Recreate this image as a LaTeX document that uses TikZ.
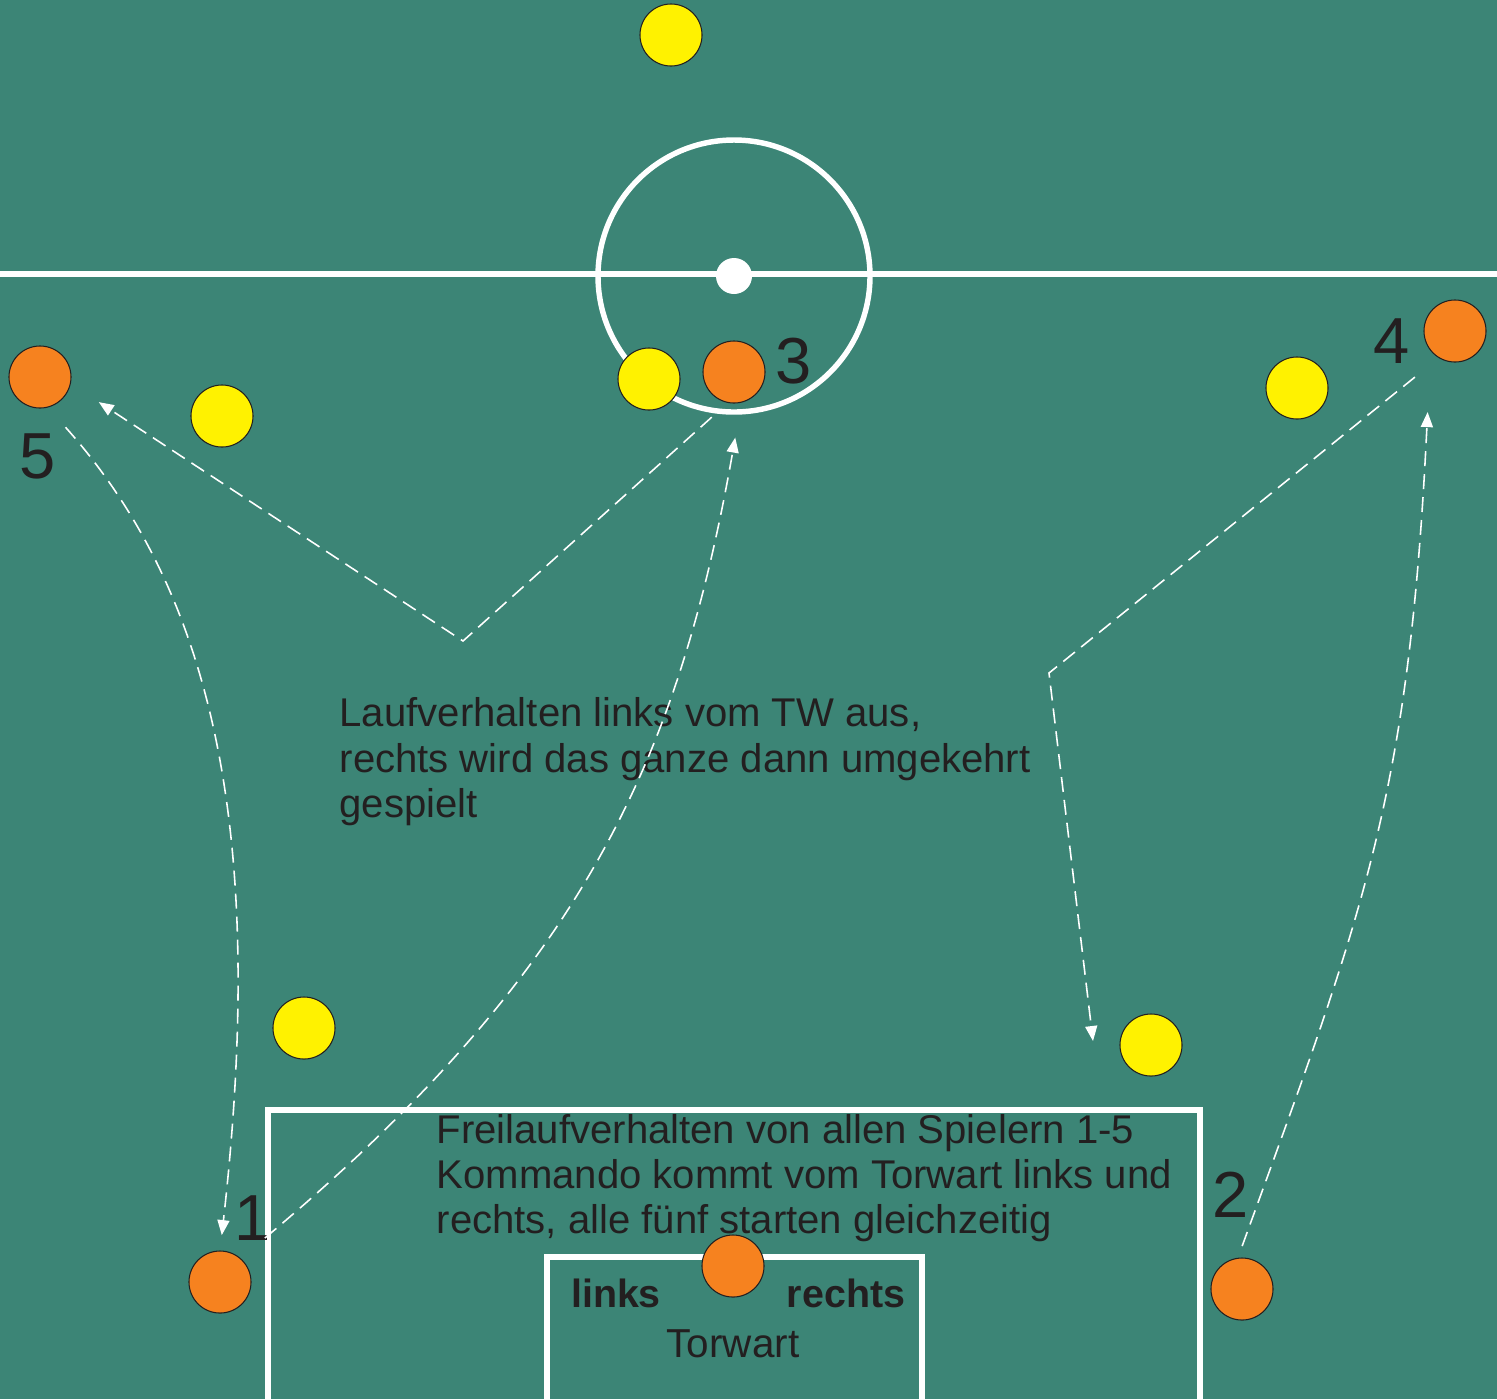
\documentclass[tikz,border=0pt]{standalone}
\usepackage{fontspec}
\setmainfont{Liberation Sans}
\usetikzlibrary{arrows.meta, positioning, calc}

\definecolor{field}{HTML}{3C8576}
\definecolor{attorange}{HTML}{F6821F}
\definecolor{defyellow}{HTML}{FFF200}
\definecolor{ink}{HTML}{231F20}

\tikzset{
  player/.style={circle, draw=ink, line width=0.3pt, fill=attorange,
    minimum size=0.62cm, inner sep=0pt, outer sep=0pt},
  defender/.style={player, fill=defyellow},
  fieldline/.style={white, line width=1.55pt},
  run/.style={white, line width=0.45pt, dash pattern=on 0.15cm off 0.08cm,
    -{Triangle[length=0.15cm, width=0.12cm]}},
  nr/.style={text=ink, font=\fontsize{18.5}{20}\selectfont, anchor=base, inner sep=0pt},
  info/.style={text=ink, font=\fontsize{11.4}{12.8}\selectfont, align=left,
    anchor=base west, inner sep=0pt},
  side/.style={text=ink, font=\fontsize{11.5}{12.8}\selectfont, anchor=base, inner sep=0pt},
}

\begin{document}
\begin{tikzpicture}[x=0.01cm, y=-0.01cm]
    \useasboundingbox (0,0) rectangle (1497,1399);
    \clip (0,0) rectangle (1497,1399);
    \fill[field] (0,0) rectangle (1497,1399);

    % Field markings
    \draw[fieldline] (0,274) -- (1497,274);
    \draw[fieldline] (734,276) circle[radius=136];
    \fill[white] (734,276) circle[radius=18];
    \draw[fieldline] (268,1430) |- (1200,1110) -- (1200,1430);
    \draw[fieldline] (547,1430) |- (922,1257) -- (922,1430);

    % Texts (base = baseline of the last line)
    \node[info] (txtlauf) at (339,817)
        {Laufverhalten links vom TW aus,\\rechts wird das ganze dann umgekehrt\\gespielt};
    \node[info] (txtfrei) at (436,1233)
        {Freilaufverhalten von allen Spielern 1-5\\Kommando kommt vom Torwart links und\\rechts, alle fünf starten gleichzeitig};
    \node[side, font=\fontsize{11.2}{12.8}\selectfont\bfseries] (links) at (616,1307) {links};
    \node[side, font=\fontsize{11.2}{12.8}\selectfont\bfseries] (rechts) at (846,1307) {rechts};
    \node[side] (torwart) at (733,1357) {Torwart};

    % Defenders
    \node[defender] (d1) at (671,35) {};
    \node[defender] (d2) at (222,416) {};
    \node[defender] (d3) at (649,379) {};
    \node[defender] (d4) at (1297,388) {};
    \node[defender] (d5) at (304,1028) {};
    \node[defender] (d6) at (1151,1045) {};

    % Attackers and goalkeeper
    \node[player] (p1) at (220,1282) {};
    \node[player] (p2) at (1242,1289) {};
    \node[player] (p3) at (734,372) {};
    \node[player] (p4) at (1455,331) {};
    \node[player] (p5) at (40,377) {};
    \node[player] (tw) at (733,1266) {};

    \node[nr] (n1) at (253,1240) {1};
    \node[nr] (n2) at (1231,1217) {2};
    \node[nr] (n3) at (794,383) {3};
    \node[nr] (n4) at (1392,363) {4};
    \node[nr] (n5) at (38,478) {5};

    % Runs
    \coordinate (k1) at (463,641);
    \coordinate (k4) at (1049,673);
    \coordinate (t4) at (1093,1041);
    \draw[run, shorten <=0.22cm, shorten >=0.34cm] (p3.259) -- (k1) -- (p5.-12);
    \draw[run, shorten <=0.27cm, shorten >=0.16cm]
        (p5.-76) .. controls (220,600) and (265,850) .. (p1.90);
    \draw[run, shorten <=0.32cm, shorten >=0.36cm]
        (p1.49) .. controls (581,973) and (678,762) .. (p3.-76);
    \draw[run, shorten <=0.31cm] (p4.239) -- (k4) -- (t4);
    \draw[run, shorten <=0.13cm, shorten >=0.62cm]
        (p2.98) .. controls (1363,914) and (1409,800) .. (p4.218);
\end{tikzpicture}
\end{document}
